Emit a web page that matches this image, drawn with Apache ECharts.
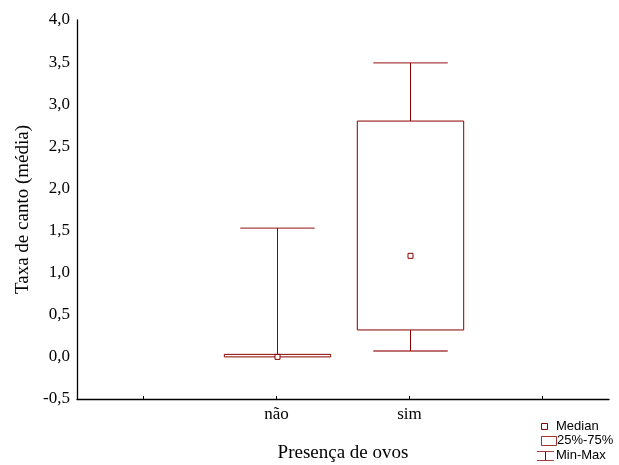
<!DOCTYPE html>
<html>
<head>
<meta charset="utf-8">
<script src="https://cdn.jsdelivr.net/npm/echarts@6/dist/echarts.min.js"></script>
<style>
  html, body { margin: 0; padding: 0; background: #fff; }
  #chart { width: 619px; height: 465px; }
</style>
</head>
<body>
<div id="chart"></div>
<script>
// Categories on the x axis (outer slots are empty padding)
const categories = ['', 'não', 'sim', ''];
// Box statistics per group: [min, q1, median, q3, max]
const naoStats = [0.0, 0.0, 0.0, 0.03, 1.53];
const simStats = [0.07, 0.32, 1.2, 2.8, 3.49];
const yTicks = { min: -0.5, max: 4.0, step: 0.5 };

const RED = '#8b0000';
const boxData = [
  [1].concat(naoStats),
  [2].concat(simStats)
];

const chart = echarts.init(document.getElementById('chart'), null, { renderer: 'canvas' });

function renderBox(params, api) {
  const x = api.value(0);
  const lo = api.value(1), q1 = api.value(2), med = api.value(3), q3 = api.value(4), hi = api.value(5);
  const bandW = api.size([1, 0])[0];
  const boxW = bandW * 0.8;
  const capW = bandW * 0.56;
  const pLo = api.coord([x, lo]);
  const pQ1 = api.coord([x, q1]);
  const pMed = api.coord([x, med]);
  const pQ3 = api.coord([x, q3]);
  const pHi = api.coord([x, hi]);
  const cx = Math.round(pMed[0]) + 0.5;
  const children = [];
  // upper whisker
  children.push({ type: 'line', shape: { x1: cx, y1: pQ3[1], x2: cx, y2: pHi[1] },
    style: { stroke: RED, lineWidth: 1 } });
  children.push({ type: 'line', shape: { x1: cx - capW / 2, y1: pHi[1], x2: cx + capW / 2, y2: pHi[1] },
    style: { stroke: RED, lineWidth: 1.3, opacity: 0.75 } });
  // lower whisker
  if (pLo[1] - pQ1[1] > 0.5) {
    children.push({ type: 'line', shape: { x1: cx, y1: pQ1[1], x2: cx, y2: pLo[1] },
      style: { stroke: RED, lineWidth: 1 } });
    children.push({ type: 'line', shape: { x1: cx - capW / 2, y1: pLo[1], x2: cx + capW / 2, y2: pLo[1] },
      style: { stroke: RED, lineWidth: 1.3, opacity: 0.75 } });
  }
  // box
  children.push({ type: 'rect',
    shape: { x: cx - boxW / 2, y: pQ3[1], width: boxW, height: Math.max(pQ1[1] - pQ3[1], 2.5) },
    style: { fill: '#fff', stroke: RED, lineWidth: 1 } });
  // median marker
  children.push({ type: 'rect',
    shape: { x: cx - 2.5, y: pMed[1] - 2.5, width: 5, height: 5 },
    style: { fill: '#fff', stroke: RED, lineWidth: 1 } });
  return { type: 'group', children: children };
}

const serif = 'Liberation Serif, Times New Roman, serif';
const sans = 'Liberation Sans, Arial, sans-serif';

chart.setOption({
  animation: false,
  backgroundColor: '#fff',
  grid: { left: 77, right: 10, top: 20, bottom: 66, containLabel: false, outerBoundsMode: 'none' },
  xAxis: {
    type: 'category',
    data: categories,
    boundaryGap: true,
    name: 'Presença de ovos',
    nameLocation: 'middle',
    nameGap: 45,
    nameTextStyle: { fontFamily: serif, fontSize: 19, color: '#000' },
    axisLine: { onZero: false, lineStyle: { color: '#000', width: 1.3 } },
    axisTick: { show: true, alignWithLabel: true, inside: true, length: 3, interval: 0, lineStyle: { color: '#000' } },
    axisLabel: { interval: 0, fontFamily: serif, fontSize: 17, color: '#000', margin: 7 },
    splitLine: { show: false }
  },
  yAxis: {
    type: 'value',
    min: yTicks.min,
    max: yTicks.max,
    interval: yTicks.step,
    name: 'Taxa de canto (média)',
    nameLocation: 'middle',
    nameGap: 42,
    nameRotate: 90,
    nameTextStyle: { fontFamily: serif, fontSize: 19, color: '#000' },
    axisLine: { show: true, onZero: false, lineStyle: { color: '#000', width: 1.3 } },
    axisTick: { show: false },
    axisLabel: {
      fontFamily: serif, fontSize: 17, color: '#000', margin: 7,
      formatter: v => v.toFixed(1).replace('.', ',')
    },
    splitLine: { show: false }
  },
  series: [{
    type: 'custom',
    renderItem: renderBox,
    encode: { x: 0, y: [1, 2, 3, 4, 5] },
    data: boxData,
    clip: false
  }],
  graphic: [
    // legend
    { type: 'rect', shape: { x: 541.5, y: 423.5, width: 6, height: 6 }, style: { fill: '#fff', stroke: RED, lineWidth: 1 } },
    { type: 'text', style: { x: 556, y: 426, text: 'Median', font: '13px ' + sans, fill: '#000', textVerticalAlign: 'middle' } },
    { type: 'rect', shape: { x: 541.5, y: 436.5, width: 15, height: 9 }, style: { fill: '#fff', stroke: RED, lineWidth: 1, opacity: 0.8 } },
    { type: 'text', style: { x: 557, y: 440, text: '25%-75%', font: '13px ' + sans, fill: '#000', textVerticalAlign: 'middle' } },
    { type: 'line', shape: { x1: 537, y1: 451.5, x2: 554, y2: 451.5 }, style: { stroke: RED, lineWidth: 1, opacity: 0.75 } },
    { type: 'line', shape: { x1: 545.5, y1: 451.5, x2: 545.5, y2: 460.5 }, style: { stroke: RED, lineWidth: 1 } },
    { type: 'line', shape: { x1: 537, y1: 460.5, x2: 554, y2: 460.5 }, style: { stroke: RED, lineWidth: 1, opacity: 0.75 } },
    { type: 'text', style: { x: 556, y: 455, text: 'Min-Max', font: '13px ' + sans, fill: '#000', textVerticalAlign: 'middle' } }
  ]
});
</script>
</body>
</html>
